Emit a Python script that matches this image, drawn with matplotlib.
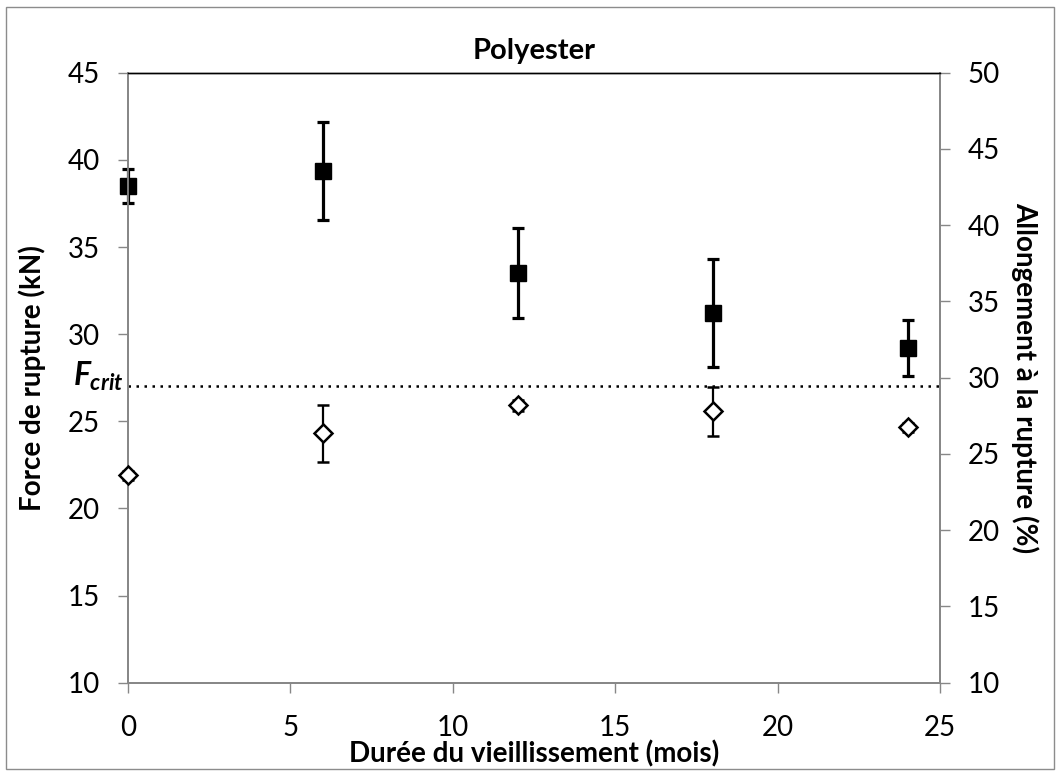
import matplotlib
matplotlib.use("Agg")
import matplotlib.pyplot as plt
from matplotlib.patches import Rectangle

plt.rcParams["font.family"] = ["Lato", "DejaVu Sans"]
plt.rcParams["mathtext.fontset"] = "custom"
plt.rcParams["mathtext.it"] = "Lato:bold:italic"
plt.rcParams["mathtext.rm"] = "Lato:bold:italic"

# months of ageing
months = [0, 6, 12, 18, 24]
# breaking force (kN), left axis
force = [38.5, 39.35, 33.5, 31.2, 29.2]
force_err = [1.0, 2.8, 2.57, 3.1, 1.6]
# elongation at break (%), right axis
elong = [23.6, 26.35, 28.2, 27.8, 26.75]
elong_err = [0.3, 1.85, 0.35, 1.62, 0.3]
f_crit = 27.0

GRID = "#878787"
fig = plt.figure(figsize=(10.61, 7.76), dpi=100)
ax = fig.add_axes([0.1206, 0.1202, 0.7654, 0.7861])
ax2 = ax.twinx()

ax.errorbar(months, force, yerr=force_err, fmt="s", color="black", ms=12,
            elinewidth=2.3, capsize=4, capthick=2.3, zorder=3, clip_on=False)
ax2.errorbar(months, elong, yerr=elong_err, fmt="D", color="black", mfc="white",
             mec="black", mew=1.8, ms=9.5, elinewidth=1.6, capsize=4,
             capthick=1.6, zorder=3, clip_on=False)
ax.axhline(f_crit, color="black", ls=(0, (1, 2.2)), lw=1.8, zorder=2)
ax.text(-0.006, f_crit + 0.55, r"$F_{crit}$", transform=ax.get_yaxis_transform(),
        ha="right", va="center", fontsize=23)

ax.set_xlim(0, 25)
ax.set_ylim(10, 45)
ax2.set_ylim(10, 50)
ax.set_xticks(range(0, 26, 5))
ax.set_yticks(range(10, 46, 5))
ax2.set_yticks(range(10, 51, 5))

for a in (ax, ax2):
    for sp in ("left", "right", "bottom"):
        a.spines[sp].set_color(GRID)
        a.spines[sp].set_linewidth(1.3)
    a.spines["top"].set_color("black")
    a.spines["top"].set_linewidth(1.0)
    a.tick_params(length=7, width=1, color=GRID, labelsize=20, pad=13)
ax.tick_params(axis="x", pad=16)

ax.set_title("Polyester", fontsize=21, fontweight="bold", pad=10)
ax.set_xlabel("Durée du vieillissement (mois)", fontsize=20, fontweight="bold", labelpad=0)
ax.set_ylabel("Force de rupture (kN)", fontsize=20, fontweight="bold", labelpad=16)
ax2.set_ylabel("Allongement à la rupture (%)", fontsize=20, fontweight="bold",
               rotation=-90, labelpad=28)

fig.patches.append(Rectangle((6 / 1061, 7 / 776), 1048 / 1061, 762 / 776,
                             transform=fig.transFigure, fill=False,
                             edgecolor="#8c8c8c", lw=1.0))
fig.savefig("out.png", dpi=100, facecolor="white")
